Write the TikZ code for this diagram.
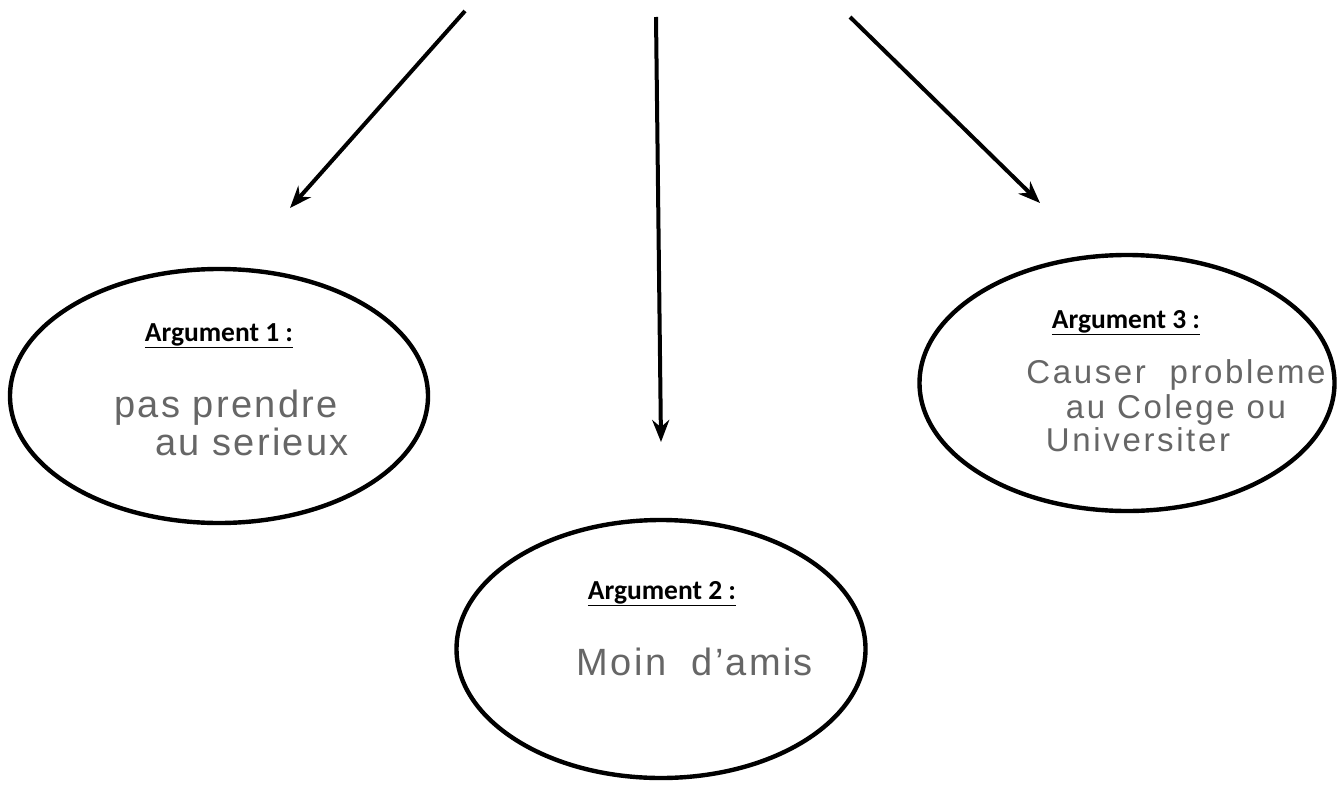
\documentclass[tikz,border=0pt]{standalone}
\usepackage{fontspec}
\setmainfont{Liberation Sans}
\newfontfamily\titlefont{Carlito}
\usetikzlibrary{shapes.geometric,arrows.meta}
\begin{document}
\begin{tikzpicture}[
        x=1pt, y=-1pt,
        bubble/.style={ellipse, draw, line width=4.4pt, inner sep=0pt, outer sep=0pt},
        title/.style={font=\titlefont\bfseries\fontsize{27.5}{32}\selectfont, anchor=base},
        hand/.style={font=\fontsize{38}{44}\selectfont\addfontfeature{LetterSpace=6}, text=black!60, anchor=base},
        handsmall/.style={hand, font=\fontsize{33}{38}\selectfont\addfontfeature{LetterSpace=8}},
        arrow/.style={-{Stealth[length=22pt,width=17pt]}, line width=4pt}
    ]
        \useasboundingbox[fill=white] (0,0) rectangle (1343,787);

        % Argument bubbles
        \node[bubble, minimum width=418pt, minimum height=254pt] (arg1) at (219,396) {};
        \node[bubble, minimum width=409pt, minimum height=258pt] (arg2) at (661,649) {};
        \node[bubble, minimum width=415pt, minimum height=256pt] (arg3) at (1127,383) {};

        % Titles
        \node[title] (title1) at (219,341) {\underline{Argument 1 :}};
        \node[title] (title2) at (662,599) {\underline{Argument 2 :}};
        \node[title] (title3) at (1126,328) {\underline{Argument 3 :}};

        % Handwritten answers
        \node[hand] (text1a) at (226,417) {pas prendre};
        \node[hand] (text1b) at (252,455) {au serieux};
        \node[hand] (text2) at (695,675) {Moin\ \ d'amis};
        \node[handsmall] (text3a) at (1176,383) {Causer\ \ probleme};
        \node[handsmall] (text3b) at (1176,418) {au Colege ou};
        \node[handsmall] (text3c) at (1138,451) {Universiter};

        % Arrow ends
        \coordinate (top1) at (465,11);
        \coordinate (tip1) at (290,208);
        \coordinate (top2) at (656,17);
        \coordinate (tip2) at (661,442);
        \coordinate (top3) at (850,17);
        \coordinate (tip3) at (1040,203);

        % Arrows
        \draw[arrow] (top1) -- (tip1);
        \draw[arrow] (top2) -- (tip2);
        \draw[arrow] (top3) -- (tip3);

    \end{tikzpicture}
\end{document}
